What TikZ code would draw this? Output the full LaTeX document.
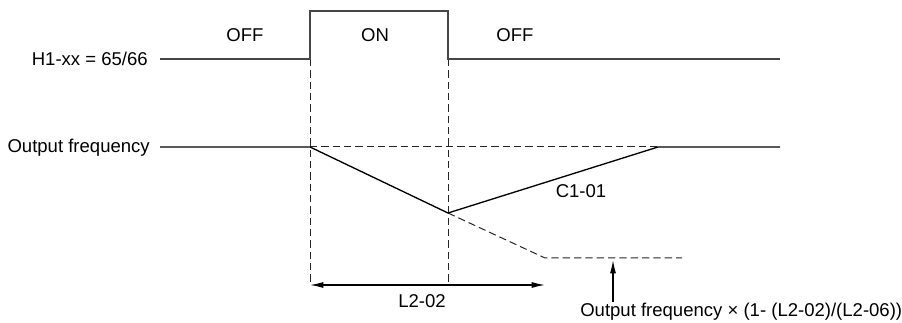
\documentclass[tikz,border=0pt]{standalone}
\usepackage{fontspec}
\setmainfont{Liberation Sans}
\usetikzlibrary{arrows.meta}
\definecolor{sig}{RGB}{70,70,70}
\begin{document}
\begin{tikzpicture}[x=0.75pt,y=-0.75pt,
  lbl/.style={inner sep=0pt,font=\fontsize{13.9}{16}\selectfont},
  solidline/.style={line width=1pt,black},
  sigline/.style={line width=1.3pt,sig},
  dashline/.style={line width=0.75pt,black!85,dash pattern=on 5.5pt off 3pt},
  arr/.style={line width=0.9pt,black,-{Latex[length=10pt,width=4.5pt]}},
  darr/.style={line width=0.9pt,black,{Latex[length=10pt,width=4.5pt]}-{Latex[length=10pt,width=4.5pt]}}]
\useasboundingbox (0,0) rectangle (902,323);
% labels
\node[lbl,anchor=base east] (h1) at (148,65.5) {H1-xx = 65/66};
\node[lbl,anchor=base east] (of) at (150,153) {Output frequency};
\node[lbl,anchor=base] (off1) at (245,42) {OFF};
\node[lbl,anchor=base] (on) at (375,42) {ON};
\node[lbl,anchor=base] (off2) at (515,42) {OFF};
\node[lbl,anchor=base] (c101) at (581,198) {C1-01};
\node[lbl,anchor=base] (l202) at (422,308) {L2-02};
\node[lbl,anchor=base west] (form) at (580,317) {Output frequency × (1- (L2-02)/(L2-06))};
% coordinates
\coordinate (h1s) at (160,59);
\coordinate (h1a) at (310,59);
\coordinate (h1b) at (310,11);
\coordinate (h1c) at (448,11);
\coordinate (h1d) at (448,59);
\coordinate (h1e) at (780,59);
\coordinate (ofs) at (160,147);
\coordinate (ofa) at (310,147);
\coordinate (ofmin) at (448,213);
\coordinate (ofr) at (658,147);
\coordinate (ofe) at (780,147);
\coordinate (dk) at (545,258);
\coordinate (de) at (682,258);
\coordinate (v1b) at (310,285);
\coordinate (v2b) at (448,285);
\coordinate (ae) at (545,285);
\coordinate (ub) at (613,302);
\coordinate (ut) at (613,260);
% vertical dashed
\draw[dashline] (h1a) -- (v1b);
\draw[dashline] (h1d) -- (v2b);
% signal
\draw[sigline] (h1s) -- (h1a) -- (h1b) -- (h1c) -- (h1d) -- (h1e);
% output frequency
\draw[dashline] (ofa) -- (ofr);
\draw[dashline] (ofmin) -- (dk) -- (de);
\draw[solidline] (ofs) -- (ofa) -- (ofmin) -- (ofr) -- (ofe);
% arrows
\draw[darr] (v1b) -- (ae);
\draw[arr] (ub) -- (ut);
\end{tikzpicture}
\end{document}
